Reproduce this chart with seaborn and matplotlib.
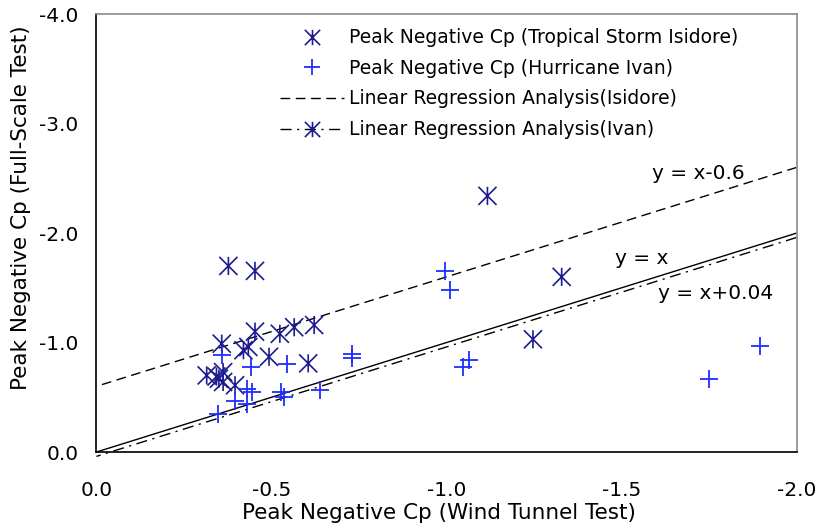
import numpy as np
import pandas as pd
import matplotlib
matplotlib.use("Agg")
import matplotlib.pyplot as plt
from matplotlib.path import Path
from matplotlib.markers import MarkerStyle
from matplotlib.lines import Line2D
import seaborn as sns

# Peak negative Cp, wind tunnel (x) vs full-scale (y)
isidore_wt = [-0.377, -0.453, -1.117, -1.329, -1.247, -0.358, -0.453, -0.420,
              -0.434, -0.524, -0.565, -0.622, -0.493, -0.605, -0.315, -0.343,
              -0.362, -0.362, -0.396, -0.350]
isidore_fs = [-1.70, -1.655, -2.34, -1.60, -1.03, -0.99, -1.10, -0.93,
              -0.96, -1.08, -1.14, -1.16, -0.87, -0.81, -0.70, -0.69,
              -0.73, -0.64, -0.61, -0.67]

ivan_wt = [-0.997, -1.009, -1.048, -1.065, -1.750, -1.895, -0.358, -0.443,
           -0.543, -0.396, -0.430, -0.445, -0.430, -0.348, -0.527, -0.537,
           -0.639, -0.729, -0.729]
ivan_fs = [-1.65, -1.48, -0.78, -0.84, -0.67, -0.97, -0.89, -0.78,
           -0.80, -0.47, -0.58, -0.55, -0.44, -0.35, -0.55, -0.50,
           -0.57, -0.90, -0.86]

# Reference lines y = x + offset
line_x = [0.0, -2.0]
isidore_offset = -0.6
ivan_offset = 0.04
identity_offset = 0.0

x_ticks = [0.0, -0.5, -1.0, -1.5, -2.0]
y_ticks = [0.0, -1.0, -2.0, -3.0, -4.0]

sns.set_style("white")
plt.rcParams["font.family"] = ["DejaVu Sans"]
plt.rcParams["text.color"] = "black"
plt.rcParams["axes.labelcolor"] = "black"
plt.rcParams["xtick.color"] = "black"
plt.rcParams["ytick.color"] = "black"

fig = plt.figure(figsize=(8.17, 5.25), dpi=100)
ax = fig.add_axes([0.118, 0.139, 0.857, 0.834])

# six-armed asterisk: vertical bar plus an X
ast_verts = [(0, -1), (0, 1), (-1, -1), (1, 1), (-1, 1), (1, -1)]
ast_codes = [Path.MOVETO, Path.LINETO] * 3
asterisk = MarkerStyle(Path(ast_verts, ast_codes))

navy = "#1c1c8f"
blue = "#1f2dff"

df_isi = pd.DataFrame({"wt": isidore_wt, "fs": isidore_fs})
df_ivan = pd.DataFrame({"wt": ivan_wt, "fs": ivan_fs})

sns.scatterplot(data=df_isi, x="wt", y="fs", marker=asterisk, s=170,
                facecolor="none", edgecolor=navy, linewidth=1.2, ax=ax, zorder=3)
sns.scatterplot(data=df_ivan, x="wt", y="fs", marker="+", s=180,
                color=blue, linewidth=1.3, ax=ax, zorder=3)

lx = np.array(line_x)
df_lines = pd.DataFrame({
    "x": np.concatenate([lx, lx, lx]),
    "y": np.concatenate([lx + identity_offset, lx + isidore_offset, lx + ivan_offset]),
    "which": ["identity"] * 2 + ["isidore"] * 2 + ["ivan"] * 2,
})
for key in ["identity", "isidore", "ivan"]:
    sns.lineplot(data=df_lines[df_lines.which == key], x="x", y="y",
                 color="black", linewidth=1.0, ax=ax)
lines = ax.get_lines()
lines[1].set_dashes([7, 4])
lines[2].set_dashes([8, 4, 1.5, 4])
for ln in lines:
    ln.set_clip_on(False)

ax.set_xlim(0, -2.0)
ax.set_ylim(0, -4.0)
ax.set_xticks(x_ticks)
ax.set_yticks(y_ticks)
ax.set_xticklabels([f"{v:.1f}" for v in x_ticks])
ax.set_yticklabels([f"{v:.1f}" for v in y_ticks])
ax.tick_params(direction="in", length=7, width=1, labelsize=14.5, colors="black")
ax.tick_params(axis="y", pad=13)
ax.tick_params(axis="x", pad=21)
ax.set_xlabel("Peak Negative Cp (Wind Tunnel Test)", fontsize=15.5)
ax.set_ylabel("Peak Negative Cp (Full-Scale Test)", fontsize=15.5)
ax.xaxis.set_label_coords(0.489, -0.117)
ax.yaxis.set_label_coords(-0.094, 0.559)

for side in ["left", "bottom"]:
    ax.spines[side].set_color("black")
    ax.spines[side].set_linewidth(1.2)
for side in ["top", "right"]:
    ax.spines[side].set_color("#8a8a8a")
    ax.spines[side].set_linewidth(1.2)

ax.text(-1.587, -2.548, "y = x-0.6", fontsize=14.5, va="center", ha="left")
ax.text(-1.481, -1.772, "y = x", fontsize=14.5, va="center", ha="left")
ax.text(-1.604, -1.452, "y = x+0.04", fontsize=14.5, va="center", ha="left")

handles = [
    Line2D([], [], linestyle="none", marker=asterisk, markersize=11,
           markeredgecolor=navy, markerfacecolor="none", markeredgewidth=1.2),
    Line2D([], [], linestyle="none", marker="+", markersize=11,
           color=blue, markeredgewidth=1.3),
    Line2D([], [], color="black", linewidth=1.0, dashes=[7, 4]),
    Line2D([], [], color="black", linewidth=1.0, dashes=[8, 4, 1.5, 4],
           marker=asterisk, markersize=11, markeredgecolor=navy,
           markerfacecolor="none", markeredgewidth=1.2),
]
labels = [
    "Peak Negative Cp (Tropical Storm Isidore)",
    "Peak Negative Cp (Hurricane Ivan)",
    "Linear Regression Analysis(Isidore)",
    "Linear Regression Analysis(Ivan)",
]
leg = ax.legend(handles, labels, loc="upper left", bbox_to_anchor=(0.251, 0.985),
                frameon=False, fontsize=13.5, handlelength=3.45, handletextpad=0.27,
                labelspacing=0.62, borderaxespad=0.0)

fig.savefig("out.png", dpi=100, facecolor="white")
